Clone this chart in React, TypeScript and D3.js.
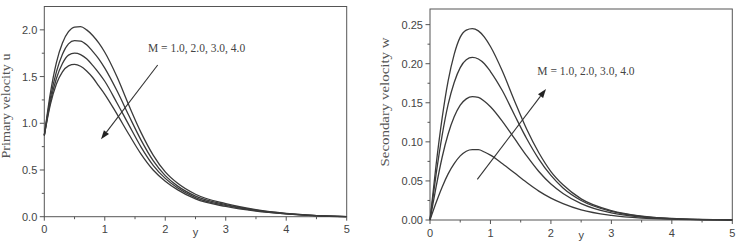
import React from "react";
import * as d3 from "d3";

// ---- data ----
const yPrimary = [0, 0.1, 0.2, 0.3, 0.4, 0.5, 0.6, 0.7, 0.8, 0.9, 1.0, 1.2, 1.4, 1.6, 1.8, 2.0, 2.2, 2.5, 3.0, 3.5, 4.0, 4.5, 5.0];
const uM1 = [0.87, 1.32, 1.65, 1.86, 1.98, 2.03, 2.035, 2.0, 1.94, 1.86, 1.76, 1.5, 1.19, 0.9, 0.66, 0.48, 0.36, 0.24, 0.14, 0.075, 0.035, 0.012, 0];
const uM2 = [0.87, 1.27, 1.55, 1.74, 1.85, 1.885, 1.88, 1.84, 1.77, 1.69, 1.59, 1.35, 1.08, 0.82, 0.6, 0.44, 0.33, 0.22, 0.13, 0.07, 0.033, 0.011, 0];
const uM3 = [0.87, 1.23, 1.48, 1.64, 1.73, 1.75, 1.735, 1.69, 1.62, 1.54, 1.45, 1.22, 0.98, 0.745, 0.55, 0.41, 0.31, 0.205, 0.12, 0.065, 0.031, 0.011, 0];
const uM4 = [0.87, 1.2, 1.42, 1.55, 1.615, 1.63, 1.61, 1.56, 1.49, 1.4, 1.31, 1.1, 0.88, 0.67, 0.5, 0.38, 0.29, 0.19, 0.11, 0.06, 0.03, 0.01, 0];

const ySecondary = [0, 0.1, 0.2, 0.3, 0.4, 0.5, 0.6, 0.7, 0.8, 0.9, 1.0, 1.2, 1.4, 1.6, 1.8, 2.0, 2.2, 2.5, 3.0, 3.5, 4.0, 4.5, 5.0];
const wM4 = [0, 0.07, 0.13, 0.178, 0.212, 0.234, 0.243, 0.245, 0.242, 0.234, 0.222, 0.19, 0.152, 0.116, 0.086, 0.062, 0.045, 0.027, 0.012, 0.005, 0.002, 0.0007, 0];
const wM3 = [0, 0.058, 0.108, 0.148, 0.176, 0.195, 0.205, 0.208, 0.206, 0.2, 0.19, 0.165, 0.134, 0.104, 0.078, 0.057, 0.041, 0.025, 0.011, 0.0045, 0.0018, 0.0006, 0];
const wM2 = [0, 0.042, 0.08, 0.11, 0.132, 0.147, 0.155, 0.158, 0.157, 0.152, 0.145, 0.126, 0.104, 0.082, 0.062, 0.046, 0.034, 0.021, 0.009, 0.0038, 0.0015, 0.0005, 0];
const wM1 = [0, 0.022, 0.042, 0.059, 0.072, 0.082, 0.088, 0.09, 0.09, 0.087, 0.083, 0.072, 0.06, 0.048, 0.037, 0.028, 0.021, 0.013, 0.006, 0.0025, 0.001, 0.0003, 0];

const xTicks = [0, 1, 2, 3, 4, 5];
const leftYTicks = [0, 0.5, 1.0, 1.5, 2.0];
const rightYTicks = [0, 0.05, 0.1, 0.15, 0.2, 0.25];
const annotation = "M = 1.0, 2.0, 3.0, 4.0";
const leftYLabel = "Primary velocity u";
const rightYLabel = "Secondary velocity w";
const xLabel = "y";

const SANS = "'Liberation Sans', Arial, sans-serif";
const SERIF = "'Liberation Serif', 'Times New Roman', serif";
const AXIS = "#555";
const TXT = "#444";
const CURVE = "#3a3a3a";

type PanelProps = {
  x0: number; x1: number; yTop: number; yBot: number;
  yMax: number; yTicks: number[]; yMinorStep: number; yFmt: (v: number) => string;
  xs: number[]; series: number[][];
  yLabel: string; yLabelX: number; yLabelCY: number; yLabelLen: number;
  ann: { x: number; y: number }; arrow: { x1: number; y1: number; x2: number; y2: number };
};

function Panel(p: PanelProps) {
  const x = d3.scaleLinear().domain([0, 5]).range([p.x0, p.x1]);
  const y = d3.scaleLinear().domain([0, p.yMax]).range([p.yBot, p.yTop]);
  const line = d3.line<[number, number]>().x(d => x(d[0])).y(d => y(d[1])).curve(d3.curveMonotoneX);
  const xMinor = d3.range(0.5, 5, 1);
  const yMinor = d3.range(p.yMinorStep, p.yMax, p.yMinorStep * 2).filter(v => v < p.yMax);
  const ang = Math.atan2(p.arrow.y2 - p.arrow.y1, p.arrow.x2 - p.arrow.x1);
  const hl = 9, hw = 3.2;
  const ax = p.arrow.x2, ay = p.arrow.y2;
  const bx = ax - hl * Math.cos(ang), by = ay - hl * Math.sin(ang);
  const head = `M${ax},${ay} L${bx + hw * Math.sin(ang)},${by - hw * Math.cos(ang)} L${bx - hw * Math.sin(ang)},${by + hw * Math.cos(ang)} Z`;
  return (
    <g>
      <rect x={p.x0} y={p.yTop} width={p.x1 - p.x0} height={p.yBot - p.yTop} fill="none" stroke={AXIS} strokeWidth={1} />
      {p.series.map((s, i) => (
        <path key={i} d={line(p.xs.map((v, j) => [v, s[j]] as [number, number])) || ""} fill="none" stroke={CURVE} strokeWidth={1.3} />
      ))}
      {xTicks.map(t => (
        <g key={"xt" + t}>
          <line x1={x(t)} x2={x(t)} y1={p.yBot} y2={p.yBot + 4} stroke={AXIS} />
          <text x={x(t)} y={p.yBot + 16.5} textAnchor="middle" fontFamily={SANS} fontSize={11} fill={TXT}>{t}</text>
        </g>
      ))}
      {xMinor.map(t => (
        <line key={"xm" + t} x1={x(t)} x2={x(t)} y1={p.yBot} y2={p.yBot + 2.5} stroke={AXIS} />
      ))}
      {p.yTicks.map(t => (
        <g key={"yt" + t}>
          <line x1={p.x0 - 4.5} x2={p.x0} y1={y(t)} y2={y(t)} stroke={AXIS} />
          <text x={p.x0 - 7} y={y(t)} dy="0.36em" textAnchor="end" fontFamily={SANS} fontSize={11} fill={TXT}>{p.yFmt(t)}</text>
        </g>
      ))}
      {yMinor.map(t => (
        <line key={"ym" + t} x1={p.x0 - 2.5} x2={p.x0} y1={y(t)} y2={y(t)} stroke={AXIS} />
      ))}
      <text x={x(2.5)} y={p.yBot + 19} textAnchor="middle" fontFamily={SANS} fontSize={11} fill={TXT}>{xLabel}</text>
      <text transform={`translate(${p.yLabelX},${p.yLabelCY}) rotate(-90)`} textAnchor="middle" fontFamily={SERIF} fontSize={11.5} fill="#555"
        textLength={p.yLabelLen} lengthAdjust="spacingAndGlyphs">{p.yLabel}</text>
      <text x={p.ann.x} y={p.ann.y} fontFamily={SERIF} fontSize={11.5} fill="#444">{annotation}</text>
      <line x1={p.arrow.x1} y1={p.arrow.y1} x2={bx} y2={by} stroke="#333" strokeWidth={1.1} />
      <path d={head} fill="#222" />
    </g>
  );
}

export default function App() {
  return (
    <svg width={740} height={250} style={{ position: "absolute", left: 0, top: 0, background: "#fff" }}>
      <Panel x0={44.3} x1={346.7} yTop={6.5} yBot={216.7} yMax={2.25} yTicks={leftYTicks} yMinorStep={0.25}
        yFmt={v => v.toFixed(1)} xs={yPrimary} series={[uM1, uM2, uM3, uM4]}
        yLabel={leftYLabel} yLabelX={10} yLabelCY={106} yLabelLen={105}
        ann={{ x: 148, y: 52 }} arrow={{ x1: 157.7, y1: 65, x2: 101, y2: 139.3 }} />
      <Panel x0={430} x1={732.3} yTop={9} yBot={220} yMax={0.27} yTicks={rightYTicks} yMinorStep={0.025}
        yFmt={v => v.toFixed(2)} xs={ySecondary} series={[wM1, wM2, wM3, wM4]}
        yLabel={rightYLabel} yLabelX={389} yLabelCY={102} yLabelLen={129}
        ann={{ x: 537.3, y: 75 }} arrow={{ x1: 477.3, y1: 179.3, x2: 546, y2: 89 }} />
    </svg>
  );
}
